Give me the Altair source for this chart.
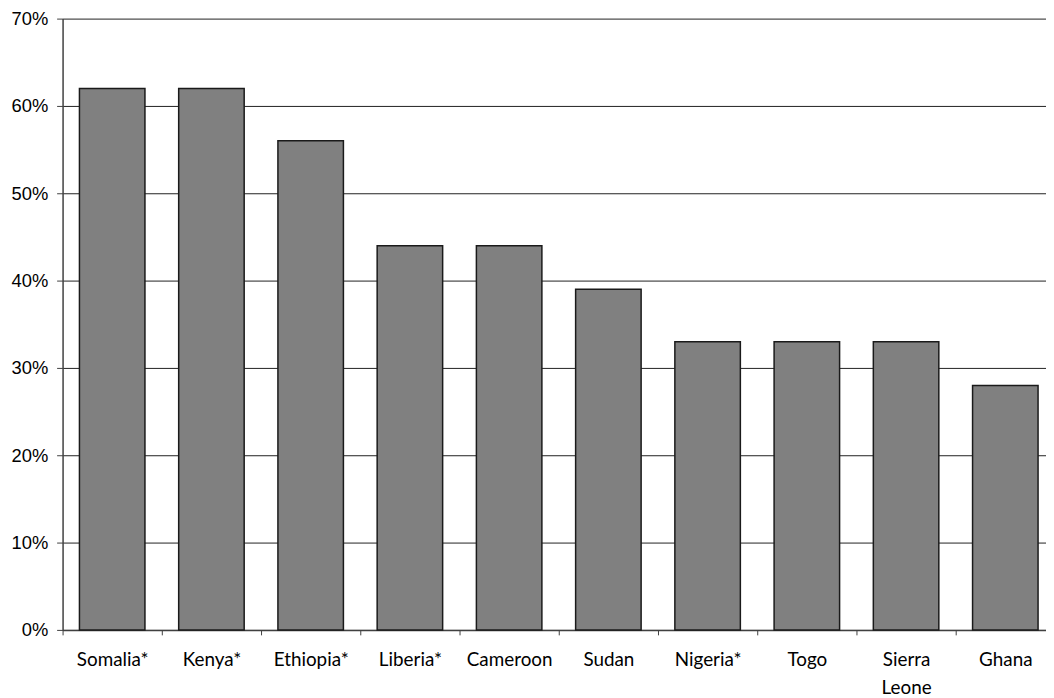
import altair as alt
import pandas as pd

countries = ["Somalia*", "Kenya*", "Ethiopia*", "Liberia*", "Cameroon", "Sudan",
             "Nigeria*", "Togo", "Sierra Leone", "Ghana"]
shares = [0.62, 0.62, 0.56, 0.44, 0.44, 0.39, 0.33, 0.33, 0.33, 0.28]
y_ticks = [0, 0.1, 0.2, 0.3, 0.4, 0.5, 0.6, 0.7]

df = pd.DataFrame({"country": countries, "share": shares})

chart = alt.Chart(df).mark_bar(
    color="#808080", stroke="#1a1a1a", strokeWidth=1.5
).encode(
    x=alt.X("country:N", sort=countries, title=None,
            scale=alt.Scale(range=[0, 1000], paddingInner=0.34, paddingOuter=0.17),
            axis=alt.Axis(labelAngle=0, labelFont="Lato", labelFontSize=19,
                          labelFontWeight="normal",
                          labelColor="#000000", labelPadding=16, labelLineHeight=28,
                          labelExpr="split(datum.label, ' ')",
                          tickOffset=-50, labelOffset=50,
                          tickSize=5, tickColor="#404040",
                          domainColor="#404040", domainWidth=1.5, grid=False)),
    y=alt.Y("share:Q", title=None,
            scale=alt.Scale(domain=[0, 0.7], nice=False),
            axis=alt.Axis(values=y_ticks, format=".0%", labelFont="Liberation Sans",
                          labelFontSize=18.5, labelColor="#000000", labelPadding=9,
                          tickSize=6, tickColor="#404040", domainColor="#404040",
                          domainWidth=1.5, grid=True, gridColor="#202020",
                          gridWidth=1, gridOpacity=1))
).properties(
    width=991, height=616,
    autosize=alt.AutoSizeParams(type="none"),
    padding={"left": 55, "top": 8, "right": 0, "bottom": 74}
).configure_view(stroke=None)

chart.save("out.html", embed_options={"renderer": "svg", "actions": False})
